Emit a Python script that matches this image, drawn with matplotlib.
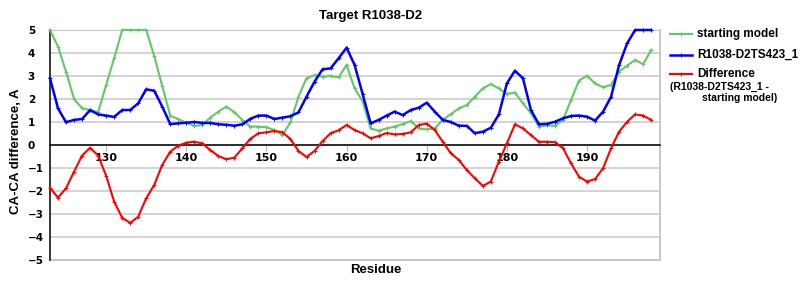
import matplotlib
matplotlib.use("Agg")
import matplotlib.pyplot as plt
from matplotlib.lines import Line2D
import numpy as np

# residue numbers 123..198
residues = list(range(123, 199))

starting_model = [
    5.0, 4.28, 3.19, 2.0, 1.6, 1.52, 1.42, 2.6, 3.77, 5.0,
    5.0, 5.0, 5.0, 3.87, 2.57, 1.28, 1.12, 0.97, 0.83, 0.87,
    1.19, 1.45, 1.67, 1.42, 1.09, 0.8, 0.8, 0.77, 0.65, 0.43,
    0.99, 2.1, 2.9, 3.04, 2.97, 3.0, 2.94, 3.48, 2.46, 1.91,
    0.72, 0.62, 0.72, 0.8, 0.91, 1.04, 0.72, 0.68, 0.72, 1.09,
    1.34, 1.59, 1.74, 2.1, 2.46, 2.65, 2.46, 2.22, 2.28, 1.81,
    1.38, 0.8, 0.85, 0.83, 1.09, 1.96, 2.8, 3.01, 2.68, 2.51,
    2.61, 3.19, 3.45, 3.7, 3.51, 4.13,
]

model_ts423 = [
    2.9, 1.59, 0.99, 1.09, 1.13, 1.52, 1.33, 1.28, 1.22, 1.52,
    1.52, 1.81, 2.42, 2.36, 1.67, 0.91, 0.94, 0.97, 1.0, 0.96,
    0.96, 0.9, 0.88, 0.84, 0.9, 1.14, 1.28, 1.28, 1.13, 1.19,
    1.25, 1.42, 2.1, 2.75, 3.29, 3.33, 3.77, 4.23, 3.48, 2.22,
    0.94, 1.09, 1.28, 1.45, 1.3, 1.52, 1.62, 1.84, 1.45, 1.09,
    1.0, 0.84, 0.83, 0.51, 0.58, 0.75, 1.33, 2.68, 3.23, 2.9,
    1.52, 0.9, 0.92, 1.01, 1.16, 1.26, 1.28, 1.23, 1.06, 1.45,
    2.1, 3.48, 4.42, 5.0, 5.0, 5.0,
]

difference = [
    -1.86, -2.29, -1.88, -1.16, -0.46, -0.12, -0.46, -1.33, -2.46, -3.16,
    -3.39, -3.12, -2.32, -1.74, -0.87, -0.29, -0.03, 0.1, 0.14, 0.07,
    -0.22, -0.48, -0.62, -0.55, -0.14, 0.27, 0.51, 0.55, 0.61, 0.55,
    0.26, -0.26, -0.52, -0.26, 0.17, 0.51, 0.64, 0.87, 0.65, 0.51,
    0.29, 0.39, 0.52, 0.46, 0.48, 0.55, 0.87, 0.93, 0.65, 0.14,
    -0.36, -0.65, -1.09, -1.45, -1.78, -1.59, -0.72, 0.07, 0.9, 0.72,
    0.43, 0.14, 0.14, 0.12, -0.14, -0.8, -1.38, -1.59, -1.48, -1.01,
    -0.14, 0.58, 1.01, 1.33, 1.28, 1.09,
]

x_ticks = [130, 140, 150, 160, 170, 180, 190]
y_ticks = list(range(-5, 6))

GREEN = "#62c962"
BLUE = "#0000ff"
RED = "#ff0000"
GRID = "#c8c8c8"

W, H = 800, 300
fig = plt.figure(figsize=(W / 100, H / 100), dpi=100)
ax = fig.add_axes([50 / W, 1 - 260 / H, 610 / W, 230 / H])

def fx(px):
    return px / W

def fy(py):
    return 1 - py / H

ax.set_xlim(123, 199.1)
ax.set_ylim(-5, 5)

ax.set_yticks(y_ticks)
ax.set_xticks(x_ticks)
ax.grid(axis="y", color=GRID, lw=1.1)
ax.set_axisbelow(True)
ax.axhline(-5, color=GRID, lw=1.4, clip_on=False, zorder=0.5)

ax.spines["bottom"].set_position(("data", 0))
ax.spines["bottom"].set_color("black")
ax.spines["bottom"].set_linewidth(1.1)
ax.spines["left"].set_color("black")
ax.spines["left"].set_linewidth(1.1)
ax.spines["top"].set_color(GRID)
ax.spines["right"].set_color(GRID)
ax.spines["right"].set_linewidth(1.4)

ax.tick_params(axis="x", direction="out", length=4.5, color="#b0b0b0",
               pad=1, labelsize=8)
ax.tick_params(axis="y", length=0, pad=16, labelsize=7.5)
for lab in ax.get_yticklabels():
    lab.set_horizontalalignment("left")
    lab.set_fontweight("bold")
for lab in ax.get_xticklabels():
    lab.set_fontweight("bold")

mk = dict(marker="+", ms=2.5, mew=0.7, clip_on=False)
ax.plot(residues, starting_model, color=GREEN, lw=1.5, zorder=3, **mk)
ax.plot(residues, model_ts423, color=BLUE, lw=1.8, zorder=4, **mk)
ax.plot(residues, difference, color=RED, lw=1.5, zorder=5, **mk)

sans = "Liberation Sans"
fig.text(fx(371), fy(15.5), "Target R1038-D2", ha="center", va="center",
         fontsize=9.5, fontweight="bold", family=sans)
fig.text(fx(376), fy(270), "Residue", ha="center", va="center",
         fontsize=9.5, fontweight="bold", family=sans)
fig.text(fx(16), fy(151), "CA-CA difference, A", ha="center", va="center",
         rotation=90, fontsize=9.5, fontweight="bold", family=sans)

# legend drawn by hand to match the three-line label
legend_items = [
    (GREEN, 1.5, 34, "starting model"),
    (BLUE, 1.8, 55, "R1038-D2TS423_1"),
    (RED, 1.5, 74, "Difference"),
]
for color, lw, py, text in legend_items:
    fig.add_artist(Line2D([fx(670), fx(692)], [fy(py), fy(py)], color=color,
                          lw=lw, transform=fig.transFigure))
    fig.add_artist(Line2D([fx(681)], [fy(py)], color=color, marker="+",
                          ms=2.5, mew=0.7, transform=fig.transFigure))
    fig.text(fx(697), fy(py), text, ha="left", va="center", fontsize=8.5,
             fontweight="bold", family=sans)
fig.text(fx(670), fy(87), "(R1038-D2TS423_1 -", ha="left", va="center",
         fontsize=7.5, fontweight="bold", family=sans)
fig.text(fx(702), fy(98), "starting model)", ha="left", va="center",
         fontsize=7.5, fontweight="bold", family=sans)

fig.savefig("out.png", dpi=100)
